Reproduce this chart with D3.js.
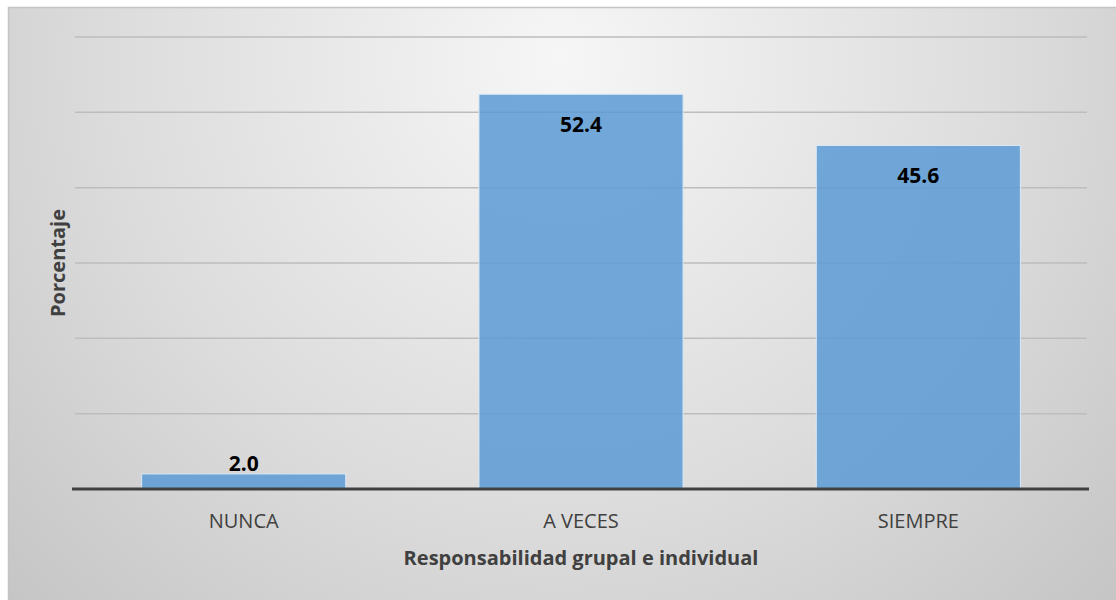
<!DOCTYPE html>
<html><head><meta charset="utf-8">
<script src="https://cdn.jsdelivr.net/npm/d3@7"></script>
<style>body{margin:0;background:#fff}svg{display:block}</style>
</head><body>
<script>
const categories = ["NUNCA", "A VECES", "SIEMPRE"];
const values = [2.0, 52.4, 45.6];
const yTicks = [0, 10, 20, 30, 40, 50, 60];
const xTitle = "Responsabilidad grupal e individual";
const yTitle = "Porcentaje";

const W = 1116, H = 600;
const svg = d3.select("body").append("svg").attr("width", W).attr("height", H);
const defs = svg.append("defs");
const g = defs.append("radialGradient").attr("id","bg").attr("gradientUnits","userSpaceOnUse")
  .attr("cx", 560).attr("cy", 60).attr("r", 820);
g.append("stop").attr("offset","0%").attr("stop-color","#f6f6f6");
g.append("stop").attr("offset","55%").attr("stop-color","#dcdcdc");
g.append("stop").attr("offset","100%").attr("stop-color","#c2c2c2");

svg.append("rect").attr("x",8.5).attr("y",7.5).attr("width",W).attr("height",H)
  .attr("fill","url(#bg)").attr("stroke","#c4c4c4").attr("stroke-width",1.5);

const m = {l:75, r:1087, t:37, b:489};
const x = d3.scaleBand().domain(categories).range([m.l, m.r]).paddingInner(0.395).paddingOuter(0.1975);
const y = d3.scaleLinear().domain([0, 60]).range([m.b, m.t]);

const font = "'Open Sans', 'Noto Sans', sans-serif";

// gridlines
svg.append("g").selectAll("line").data(yTicks.filter(d=>d>0)).join("line")
  .attr("x1", m.l).attr("x2", m.r)
  .attr("y1", d=>y(d)).attr("y2", d=>y(d))
  .attr("stroke","#bdbdbd").attr("stroke-width",1.5);

// bars
svg.append("g").selectAll("rect").data(values).join("rect")
  .attr("x",(d,i)=>x(categories[i]))
  .attr("y", d=>y(d))
  .attr("width", x.bandwidth())
  .attr("height", d=>y(0)-y(d))
  .attr("fill","#5b9bd5").attr("fill-opacity",0.85)
  .attr("stroke","#dbe8f5").attr("stroke-width",1);

// baseline
svg.append("line").attr("x1", m.l-3).attr("x2", m.r+2).attr("y1", y(0)).attr("y2", y(0))
  .attr("stroke","#404040").attr("stroke-width",3);

// data labels
svg.append("g").selectAll("text").data(values).join("text")
  .attr("x",(d,i)=>x(categories[i])+x.bandwidth()/2)
  .attr("y", d=> (y(0)-y(d) > 40) ? y(d)+38 : y(d)-3)
  .attr("text-anchor","middle")
  .attr("font-family",font).attr("font-weight","bold").attr("font-size",21)
  .attr("fill","#000")
  .text(d=>d.toFixed(1));

// x axis labels
const xAxis = d3.axisBottom(x).tickSize(0).tickPadding(0);
const xa = svg.append("g").attr("transform",`translate(0,${y(0)+39})`).call(xAxis);
xa.select(".domain").remove();
xa.selectAll("text").attr("font-family",font).attr("font-size",20).attr("fill","#404040").attr("dy",0);

// titles
svg.append("text").attr("x",(m.l+m.r)/2).attr("y",565).attr("text-anchor","middle")
  .attr("font-family",font).attr("font-weight","bold").attr("font-size",20).attr("fill","#404040")
  .text(xTitle);
svg.append("text").attr("transform",`translate(65,${(m.t+m.b)/2}) rotate(-90)`).attr("text-anchor","middle")
  .attr("font-family",font).attr("font-weight","bold").attr("font-size",20).attr("fill","#404040")
  .text(yTitle);
</script>
</body></html>
